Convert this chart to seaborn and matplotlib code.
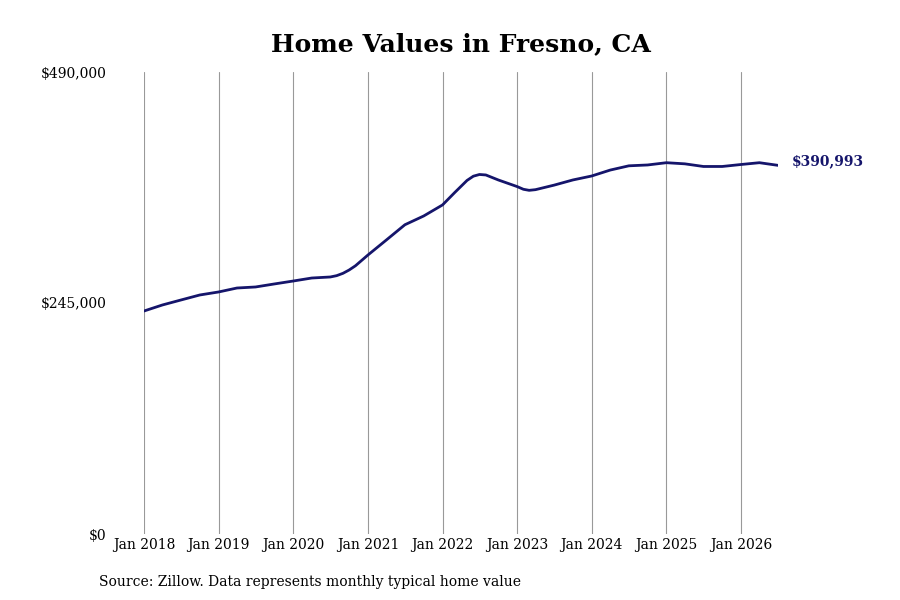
import matplotlib
matplotlib.use("Agg")
import matplotlib.pyplot as plt
import seaborn as sns
import pandas as pd

dates = ["2018-01-01", "2018-04-01", "2018-07-01", "2018-10-01",
         "2019-01-01", "2019-04-01", "2019-07-01", "2019-10-01",
         "2020-01-01", "2020-04-01", "2020-07-01", "2020-08-01", "2020-09-01", "2020-10-01",
         "2020-11-01", "2021-01-01", "2021-04-01", "2021-07-01", "2021-10-01",
         "2022-01-01", "2022-03-01", "2022-05-01", "2022-06-01", "2022-07-01", "2022-08-01",
         "2022-10-01", "2023-01-01", "2023-02-01", "2023-03-01", "2023-04-01",
         "2023-07-01", "2023-10-01",
         "2024-01-01", "2024-04-01", "2024-07-01", "2024-10-01",
         "2025-01-01", "2025-04-01", "2025-07-01", "2025-10-01",
         "2026-01-01", "2026-04-01", "2026-07-01"]
values = [236500, 242900, 248200, 253500,
          256700, 260900, 262000, 265200,
          268300, 271500, 272600, 274000, 276500, 280000,
          284500, 295900, 311800, 328000, 337300,
          349000, 362000, 375000, 379500, 381300, 380800,
          375500, 368500, 365600, 364500, 365200,
          370000, 375500,
          379700, 386000, 390500, 391400,
          393800, 392600, 389800, 389800,
          391900, 393800, 390993]
ytick_vals = [0, 245000, 490000]
ytick_labels = ["$0", "$245,000", "$490,000"]
xtick_dates = ["2018-01-01", "2019-01-01", "2020-01-01", "2021-01-01", "2022-01-01",
               "2023-01-01", "2024-01-01", "2025-01-01", "2026-01-01"]
title = "Home Values in Fresno, CA"
source = "Source: Zillow. Data represents monthly typical home value"
end_label = "$390,993"

sns.set_style("white")
plt.rcParams['font.family'] = ['DejaVu Serif']
plt.rcParams['text.color'] = 'black'
plt.rcParams['xtick.color'] = 'black'
plt.rcParams['ytick.color'] = 'black'

df = pd.DataFrame({"date": pd.to_datetime(dates), "value": values})

fig = plt.figure(figsize=(9, 6), dpi=100)
ax = fig.add_axes([144/900, 66/600, (778-144)/900, 462/600])
line_color = "#15156b"
sns.lineplot(data=df, x="date", y="value", ax=ax, color=line_color, linewidth=2.0)
ax.lines[0].set_solid_joinstyle("round")

ax.set_xlim(pd.Timestamp("2018-01-01"), pd.Timestamp("2026-07-01"))
ax.set_ylim(0, 490000)
xt = pd.to_datetime(xtick_dates)
ax.set_xticks(xt)
ax.set_xticklabels([d.strftime("Jan %Y") for d in xt], fontsize=10)
ax.set_yticks(ytick_vals)
ax.set_yticklabels(ytick_labels, fontsize=10)
ax.tick_params(axis="y", length=0, pad=27, labelcolor="black")
ax.tick_params(axis="x", length=0, pad=3, labelcolor="black")
for s in ax.spines.values():
    s.set_visible(False)
ax.grid(False)
for d in xt:
    ax.axvline(d, color="#999999", linewidth=0.8, zorder=0)
ax.set_xlabel("")
ax.set_ylabel("")

ax.text(df["date"].iloc[-1] + pd.Timedelta(days=65), values[-1] + 4500, end_label,
        fontsize=10, fontweight="bold", color=line_color, va="center", ha="left",
        clip_on=False)

fig.text(461/900, 1 - 44/600, title, fontsize=18, fontweight="bold", ha="center",
         va="center", color="black")
fig.text(99/900, 1 - 582/600, source, fontsize=10, ha="left", va="center", color="black")

fig.savefig("out.png", dpi=100)
